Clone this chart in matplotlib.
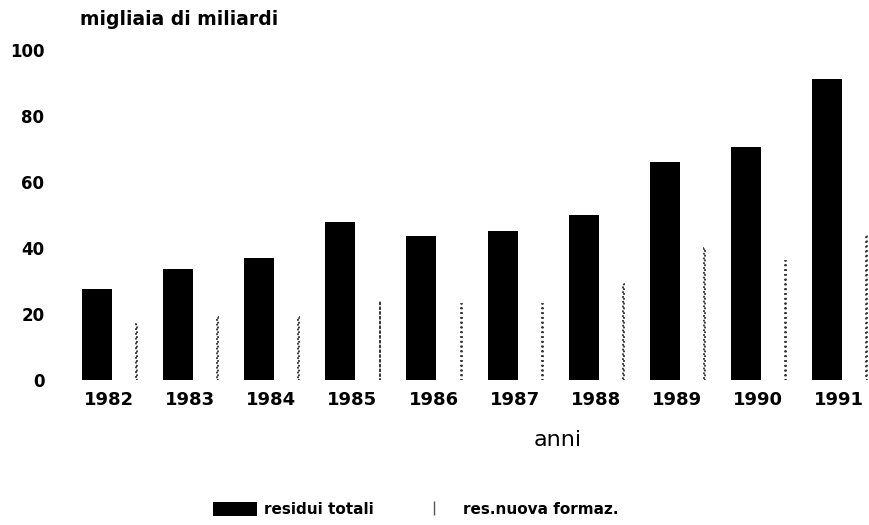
import numpy as np
import matplotlib.pyplot as plt
from matplotlib.lines import Line2D

# dati (migliaia di miliardi)
anni = ['1982', '1983', '1984', '1985', '1986', '1987', '1988', '1989', '1990', '1991']
residui_totali = [27.5, 33.5, 37, 48, 43.5, 45, 50, 66, 70.5, 91.2]
res_nuova_formaz = [17, 19, 19, 24, 23, 23, 29, 40, 36, 44]

fig = plt.figure(figsize=(8.7, 5.25), dpi=100)
ax = fig.add_axes([0.075, 0.276, 0.925, 0.629])

x = np.arange(len(anni))
b1 = ax.bar(x, residui_totali, width=0.37, color='black', label='residui totali')
b2 = ax.bar(x + 0.49, res_nuova_formaz, width=0.012, color='white', edgecolor='#333333',
            linestyle=':', linewidth=1.3, label='res.nuova formaz.')

ax.set_xlim(-0.39, 9.53)
ax.set_ylim(0, 100)
ax.set_yticks([0, 20, 40, 60, 80, 100])
ax.set_yticklabels(['0', '20', '40', '60', '80', '100'], fontsize=12, fontweight='bold')
ax.set_xticks(x + 0.15)
ax.set_xticklabels(anni, fontsize=13, fontweight='bold')
ax.tick_params(axis='y', length=0, pad=15)
ax.tick_params(axis='x', length=0, pad=8)
for s in ax.spines.values():
    s.set_visible(False)

fig.text(0.092, 0.963, 'migliaia di miliardi', fontsize=13.5, fontweight='bold', va='center')
fig.text(0.641, 0.162, 'anni', fontsize=16, ha='center', va='center')

h2 = Line2D([], [], color='#555555', linestyle='none', marker='|', markersize=10,
            label='res.nuova formaz.')
fig.legend(handles=[b1, h2], loc='center', bbox_to_anchor=(0.478, 0.03), ncol=2, frameon=False,
           prop={'weight': 'bold', 'size': 11}, handlelength=2.9, handleheight=1.05,
           columnspacing=2.5, handletextpad=0.45)

fig.savefig('out.png')
